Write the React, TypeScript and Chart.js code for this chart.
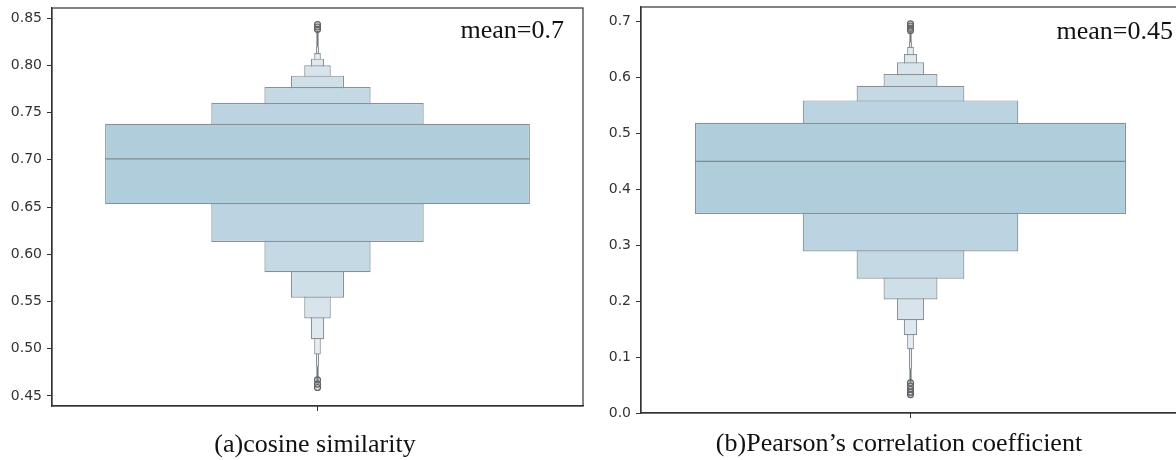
import React, { useEffect, useRef } from 'react';
import { Chart, registerables } from 'chart.js';

Chart.register(...registerables);

// ---------- data ----------
const categories = [''];
const levelWidths = [0.8, 0.4, 0.2, 0.1, 0.05, 0.025, 0.0125, 0.00625];
const levelColors = [
  'rgb(176,205,219)',
  'rgb(188,212,226)',
  'rgb(197,217,229)',
  'rgb(207,223,232)',
  'rgb(215,228,236)',
  'rgb(222,232,239)',
  'rgb(228,236,242)',
  'rgb(234,240,245)',
];

// (a) cosine similarity
const cosLow = [0.653, 0.613, 0.581, 0.554, 0.532, 0.51, 0.494, 0.481];
const cosHigh = [0.738, 0.76, 0.777, 0.789, 0.8, 0.807, 0.813, 0.82];
const cosMedian = 0.701;
const cosWhiskerTop = [0.82, 0.836];
const cosWhiskerBottom = [0.465, 0.481];
const cosOutliers = [0.843, 0.8405, 0.838, 0.467, 0.4625, 0.459];
const cosTicks = [0.45, 0.5, 0.55, 0.6, 0.65, 0.7, 0.75, 0.8, 0.85];
const cosRange = [0.4394, 0.8606];
const cosMeanLabel = 'mean=0.7';
const cosCaption = '(a)cosine similarity';

// (b) Pearson's correlation coefficient
const pearLow = [0.356, 0.289, 0.24, 0.203, 0.166, 0.139, 0.114, 0.078];
const pearHigh = [0.519, 0.559, 0.585, 0.606, 0.627, 0.642, 0.655, 0.664];
const pearMedian = 0.45;
const pearWhiskerTop = [0.664, 0.683];
const pearWhiskerBottom = [0.055, 0.078];
const pearOutliers = [0.696, 0.692, 0.688, 0.684, 0.054, 0.048, 0.042, 0.037, 0.033];
const pearTicks = [0.0, 0.1, 0.2, 0.3, 0.4, 0.5, 0.6, 0.7];
const pearRange = [0, 0.726];
const pearMeanLabel = 'mean=0.45';
const pearCaption = '(b)Pearson\u2019s correlation coefficient';

// ---------- chart helpers ----------
const boxenExtras = {
  id: 'boxenExtras',
  afterDatasetsDraw(chart: any, _args: any, opts: any) {
    const { ctx, chartArea, scales } = chart;
    const meta = chart.getDatasetMeta(0);
    const el = meta.data[0];
    if (el && opts && typeof opts.median === 'number') {
      const y = scales.y.getPixelForValue(opts.median);
      ctx.save();
      ctx.strokeStyle = '#838b8f';
      ctx.lineWidth = 1.3;
      ctx.beginPath();
      ctx.moveTo(el.x - el.width / 2, y);
      ctx.lineTo(el.x + el.width / 2, y);
      ctx.stroke();
      ctx.restore();
    }
    ctx.save();
    ctx.strokeStyle = '#333';
    ctx.lineWidth = 1.2;
    ctx.strokeRect(chartArea.left, chartArea.top, chartArea.right - chartArea.left, chartArea.bottom - chartArea.top);
    ctx.restore();
  },
};

interface PanelProps {
  low: number[];
  high: number[];
  median: number;
  whiskerTop: number[];
  whiskerBottom: number[];
  outliers: number[];
  ticks: number[];
  range: number[];
  decimals: number;
  width: number;
  height: number;
  yAxisWidth: number;
  xAxisHeight: number;
  padTop: number;
  padRight: number;
}

function BoxenPanel(p: PanelProps) {
  const ref = useRef<HTMLCanvasElement | null>(null);
  useEffect(() => {
    if (!ref.current) return;
    const boxSets: any[] = p.low.map((lo, i) => ({
      type: 'bar',
      data: [[lo, p.high[i]]],
      backgroundColor: levelColors[i],
      borderColor: '#8a9094',
      borderWidth: 1.2,
      borderSkipped: false,
      grouped: false,
      barPercentage: levelWidths[i],
      categoryPercentage: 1,
      order: i,
    }));
    const whiskerSets: any[] = [p.whiskerTop, p.whiskerBottom].map((w) => ({
      type: 'bar',
      data: [[w[0], w[1]]],
      backgroundColor: '#6f7477',
      borderWidth: 0,
      grouped: false,
      barThickness: 1.4,
      categoryPercentage: 1,
      order: 50,
    }));
    const outlierSet: any = {
      type: 'line',
      data: p.outliers.map((v) => ({ x: categories[0], y: v })),
      showLine: false,
      pointRadius: 3,
      pointBorderWidth: 1.2,
      pointBorderColor: '#5f6366',
      pointBackgroundColor: 'rgba(120,125,128,0.25)',
      order: -1,
    };
    const chart = new Chart(ref.current, {
      type: 'bar',
      data: { labels: categories, datasets: [...boxSets, ...whiskerSets, outlierSet] },
      options: {
        animation: false,
        responsive: false,
        layout: { padding: { top: p.padTop, right: p.padRight, left: 0, bottom: 0 } },
        plugins: {
          legend: { display: false },
          tooltip: { enabled: false },
          boxenExtras: { median: p.median },
        } as any,
        scales: {
          x: {
            type: 'category',
            offset: true,
            grid: { display: true, drawOnChartArea: false, drawTicks: true, tickLength: 5, color: '#333', offset: false },
            border: { display: true, color: '#333', width: 1.2 },
            ticks: { display: true, font: { size: 1 } },
            afterFit: (s: any) => {
              s.height = p.xAxisHeight;
              s.paddingLeft = 0;
              s.paddingRight = 0;
            },
          },
          y: {
            type: 'linear',
            min: p.range[0],
            max: p.range[1],
            grid: { display: true, drawOnChartArea: false, drawTicks: true, tickLength: 5, color: '#333' },
            border: { display: true, color: '#333', width: 1.2 },
            ticks: {
              color: '#333',
              padding: 5,
              font: { family: 'DejaVu Sans', size: 14 },
              callback: (v: any) => Number(v).toFixed(p.decimals),
            },
            afterBuildTicks: (s: any) => {
              s.ticks = p.ticks.map((v) => ({ value: v }));
            },
            afterFit: (s: any) => {
              s.width = p.yAxisWidth;
              s.paddingTop = 0;
              s.paddingBottom = 0;
            },
          },
        },
      } as any,
      plugins: [boxenExtras],
    });
    return () => chart.destroy();
  }, []);
  return <canvas ref={ref} width={p.width} height={p.height} style={{ width: p.width, height: p.height, display: 'block' }} />;
}

const serif = '"Liberation Serif", "Times New Roman", serif';

export default function App() {
  return (
    <div style={{ position: 'fixed', left: 0, top: 0, width: 1176, height: 460, overflow: 'hidden', background: '#fff' }}>
      <div style={{ position: 'absolute', left: 0, top: 0 }}>
        <BoxenPanel
          low={cosLow}
          high={cosHigh}
          median={cosMedian}
          whiskerTop={cosWhiskerTop}
          whiskerBottom={cosWhiskerBottom}
          outliers={cosOutliers}
          ticks={cosTicks}
          range={cosRange}
          decimals={2}
          width={590}
          height={460}
          yAxisWidth={52}
          xAxisHeight={54}
          padTop={8}
          padRight={7}
        />
      </div>
      <div style={{ position: 'absolute', left: 590, top: 0 }}>
        <BoxenPanel
          low={pearLow}
          high={pearHigh}
          median={pearMedian}
          whiskerTop={pearWhiskerTop}
          whiskerBottom={pearWhiskerBottom}
          outliers={pearOutliers}
          ticks={pearTicks}
          range={pearRange}
          decimals={1}
          width={600}
          height={460}
          yAxisWidth={51}
          xAxisHeight={47}
          padTop={7}
          padRight={10}
        />
      </div>
      <div style={{ position: 'absolute', right: 1176 - 564, top: 15, fontFamily: serif, fontSize: 26, color: '#111', whiteSpace: 'nowrap' }}>
        {cosMeanLabel}
      </div>
      <div style={{ position: 'absolute', right: 1176 - 1173, top: 16, fontFamily: serif, fontSize: 26, color: '#111', whiteSpace: 'nowrap' }}>
        {pearMeanLabel}
      </div>
      <div style={{ position: 'absolute', left: 315, top: 429, transform: 'translateX(-50%)', fontFamily: serif, fontSize: 26, color: '#111', whiteSpace: 'nowrap' }}>
        {cosCaption}
      </div>
      <div style={{ position: 'absolute', left: 899, top: 428, transform: 'translateX(-50%)', fontFamily: serif, fontSize: 26, color: '#111', whiteSpace: 'nowrap' }}>
        {pearCaption}
      </div>
    </div>
  );
}
